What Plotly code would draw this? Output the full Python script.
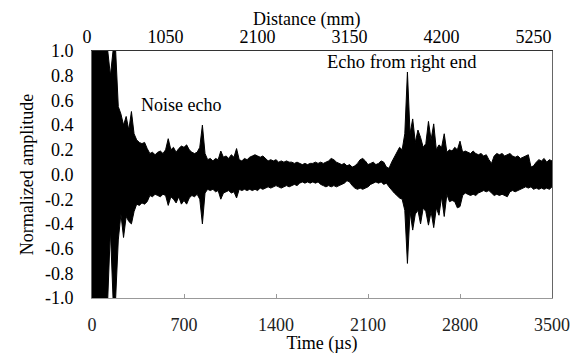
import plotly.graph_objects as go

# Sample times (µs), every 20 µs from 0 to 3500
time_us = list(range(0, 3501, 20))

# Upper envelope of the normalized signal
upper_amp = [
    1.0, 1.0, 1.0, 1.0, 1.0, 1.0, 1.0, 0.80, 1.0, 1.0,
    0.55, 0.49, 0.40, 0.47, 0.36, 0.51, 0.33, 0.28, 0.26, 0.25,
    0.26, 0.21, 0.17, 0.18, 0.16, 0.18, 0.19, 0.17, 0.20, 0.29,
    0.20, 0.22, 0.18, 0.21, 0.23, 0.22, 0.24, 0.20, 0.18, 0.17,
    0.18, 0.22, 0.40, 0.17, 0.12, 0.13, 0.11, 0.13, 0.12, 0.19,
    0.14, 0.15, 0.13, 0.16, 0.14, 0.21, 0.12, 0.11, 0.13, 0.12,
    0.14, 0.15, 0.16, 0.15, 0.14, 0.15, 0.13, 0.11, 0.12, 0.11,
    0.12, 0.10, 0.11, 0.10, 0.11, 0.10, 0.10, 0.09, 0.10, 0.09,
    0.08, 0.09, 0.08, 0.09, 0.09, 0.10, 0.09, 0.10, 0.09, 0.10,
    0.11, 0.13, 0.12, 0.10, 0.09, 0.08, 0.09, 0.07, 0.08, 0.06,
    0.07, 0.09, 0.12, 0.13, 0.11, 0.08, 0.09, 0.10, 0.08, 0.09,
    0.11, 0.10, 0.06, 0.05, 0.10, 0.14, 0.17, 0.22, 0.20, 0.33,
    0.83, 0.33, 0.45, 0.26, 0.36, 0.30, 0.22, 0.25, 0.43, 0.28,
    0.41, 0.20, 0.24, 0.22, 0.33, 0.18, 0.20, 0.19, 0.22, 0.20,
    0.27, 0.18, 0.19, 0.18, 0.17, 0.19, 0.17, 0.16, 0.17, 0.15,
    0.16, 0.12, 0.09, 0.15, 0.17, 0.16, 0.17, 0.15, 0.16, 0.17,
    0.15, 0.14, 0.15, 0.13, 0.14, 0.15, 0.16, 0.06, 0.07, 0.10,
    0.12, 0.11, 0.13, 0.10, 0.12, 0.11,
]

# Lower envelope of the normalized signal
lower_amp = [
    -1.0, -1.0, -1.0, -1.0, -1.0, -1.0, -1.0, -0.45, -1.0, -1.0,
    -0.53, -0.32, -0.51, -0.34, -0.38, -0.40, -0.30, -0.24, -0.25, -0.23,
    -0.24, -0.22, -0.17, -0.18, -0.16, -0.17, -0.18, -0.16, -0.17, -0.25,
    -0.18, -0.20, -0.23, -0.18, -0.24, -0.21, -0.24, -0.19, -0.17, -0.18,
    -0.16, -0.20, -0.40, -0.15, -0.12, -0.13, -0.12, -0.14, -0.13, -0.20,
    -0.15, -0.14, -0.13, -0.15, -0.14, -0.19, -0.12, -0.13, -0.12, -0.13,
    -0.12, -0.13, -0.12, -0.13, -0.11, -0.12, -0.11, -0.10, -0.11, -0.10,
    -0.09, -0.10, -0.11, -0.10, -0.09, -0.10, -0.09, -0.08, -0.09, -0.07,
    -0.06, -0.07, -0.06, -0.07, -0.06, -0.07, -0.06, -0.08, -0.09, -0.10,
    -0.09, -0.10, -0.09, -0.10, -0.09, -0.08, -0.07, -0.05, -0.06, -0.09,
    -0.11, -0.12, -0.11, -0.12, -0.11, -0.10, -0.08, -0.07, -0.06, -0.07,
    -0.06, -0.08, -0.07, -0.10, -0.13, -0.15, -0.17, -0.19, -0.20, -0.29,
    -0.72, -0.30, -0.45, -0.32, -0.29, -0.40, -0.27, -0.30, -0.41, -0.30,
    -0.43, -0.27, -0.33, -0.18, -0.34, -0.16, -0.22, -0.21, -0.22, -0.27,
    -0.26, -0.17, -0.15, -0.16, -0.17, -0.16, -0.17, -0.15, -0.14, -0.13,
    -0.14, -0.13, -0.15, -0.17, -0.16, -0.17, -0.16, -0.17, -0.18, -0.14,
    -0.13, -0.14, -0.13, -0.12, -0.11, -0.10, -0.11, -0.10, -0.12, -0.11,
    -0.12, -0.11, -0.12, -0.11, -0.12, -0.10,
]

time_ticks = [0, 700, 1400, 2100, 2800, 3500]
distance_ticks = [0, 1050, 2100, 3150, 4200, 5250]
amp_ticks = [1.0, 0.8, 0.6, 0.4, 0.2, 0.0, -0.2, -0.4, -0.6, -0.8, -1.0]
amp_tick_labels = ["1.0", "0.8", "0.6", "0.4", "0.2", "0.0",
                   "-0.2", "-0.4", "-0.6", "-0.8", "-1.0"]

FONT = "Times New Roman"

fig = go.Figure()
fig.add_trace(go.Scatter(x=time_us, y=upper_amp, mode="lines",
                         line=dict(color="black", width=1), showlegend=False))
fig.add_trace(go.Scatter(x=time_us, y=lower_amp, mode="lines", fill="tonexty",
                         fillcolor="black",
                         line=dict(color="black", width=1), showlegend=False))
# invisible trace to activate the top distance axis
fig.add_trace(go.Scatter(x=[distance_ticks[0], distance_ticks[-1]], y=[0, 0],
                         xaxis="x2", mode="lines", line=dict(width=0),
                         hoverinfo="skip", showlegend=False))

fig.update_layout(
    width=574, height=354,
    margin=dict(l=92, r=22, t=51, b=56),
    paper_bgcolor="white", plot_bgcolor="white",
    font=dict(family=FONT, size=18, color="black"),
    title=dict(text="Distance (mm)", xref="paper", x=0.467, xanchor="center",
               yref="container", y=0.948, yanchor="middle",
               font=dict(family=FONT, size=18, color="black")),
    xaxis=dict(range=[0, 3500], tickvals=time_ticks, automargin=False,
               ticks="inside", ticklen=4, tickcolor="#999999",
               showline=True, linecolor="#999999", linewidth=1,
               showgrid=False, zeroline=False,
               ticklabelstandoff=10,
               tickfont=dict(family=FONT, size=18, color="#222222"),
               title=dict(text="Time (µs)", standoff=4,
                          font=dict(family=FONT, size=18))),
    xaxis2=dict(range=[0, 5250], tickvals=distance_ticks, overlaying="x",
                side="top", showline=True, linecolor="#333333", linewidth=1,
                ticks="", showgrid=False, zeroline=False, automargin=False,
                ticklabelposition="outside left",
                tickfont=dict(family=FONT, size=18)),
    yaxis=dict(range=[-1.0, 1.0], tickvals=amp_ticks, ticktext=amp_tick_labels,
               showline=True, mirror=True, linecolor="#666666", linewidth=1,
               ticks="", showgrid=False, zeroline=False, automargin=False,
               ticklabelstandoff=14,
               tickfont=dict(family=FONT, size=18),
               title=dict(text="Normalized amplitude", standoff=6,
                          font=dict(family=FONT, size=18))),
    annotations=[
        dict(x=677, y=0.56, xref="x", yref="y", text="Noise echo",
             showarrow=False, font=dict(family=FONT, size=18)),
        dict(x=2357, y=0.91, xref="x", yref="y", text="Echo from right end",
             showarrow=False, font=dict(family=FONT, size=18.5)),
    ],
)

fig.write_html("out.html", config={"displayModeBar": False},
               post_script="document.body.style.margin='0';")
